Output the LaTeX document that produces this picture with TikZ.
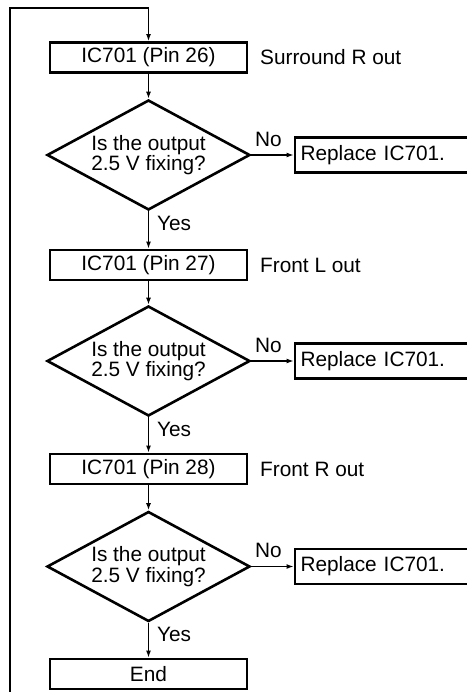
\documentclass[tikz,border=0pt]{standalone}
\usepackage{fontspec}
\setmainfont{Liberation Sans}
\usetikzlibrary{shapes.geometric,arrows.meta}
\begin{document}
\begin{tikzpicture}[x=1pt,y=-1pt,
  font=\fontsize{20.8}{20.5}\selectfont,
  conn/.style={line width=1.3pt},
  arr/.style={conn,-{Latex[length=7pt,width=5pt]}},
  mainbox/.style={draw,line width=2.9pt,minimum width=197pt,minimum height=30pt,inner sep=0pt},
  repbox/.style={draw,line width=2.9pt,minimum width=180pt,minimum height=35pt,inner sep=0pt,text width=169pt,align=left},
  dia/.style={draw,diamond,line width=2.6pt,minimum width=203pt,minimum height=110pt,inner sep=0pt},
  lbl/.style={inner sep=0pt},
]
\useasboundingbox (0,0) rectangle (466,692);
% main column
\node[mainbox] (b1) at (148.5,57.5) {IC701 (Pin 26)};
\node[dia] (d1) at (148.5,155) {};
\node[lbl,align=center] (q1) at (148.5,155) {Is the output\\2.5 V fixing?};
\node[repbox] (r1) at (385,155) {Replace IC701.};
\node[mainbox] (b2) at (148.5,265) {IC701 (Pin 27)};
\node[dia] (d2) at (148.5,361) {};
\node[lbl,align=center] (q2) at (148.5,361) {Is the output\\2.5 V fixing?};
\node[repbox] (r2) at (385,361) {Replace IC701.};
\node[mainbox] (b3) at (148.5,469) {IC701 (Pin 28)};
\node[dia] (d3) at (148.5,566.5) {};
\node[lbl,align=center] (q3) at (148.5,566.5) {Is the output\\2.5 V fixing?};
\node[repbox] (r3) at (385,566.5) {Replace IC701.};
\node[mainbox] (e) at (148.5,674) {End};
% side labels
\node[lbl,anchor=west] (s1) at (260,57.5) {Surround R out};
\node[lbl,anchor=west] (s2) at (260,265) {Front L out};
\node[lbl,anchor=west] (s3) at (260,469) {Front R out};
\node[lbl] (n1) at (268.5,139) {No};
\node[lbl] (n2) at (268.5,345) {No};
\node[lbl] (n3) at (268.5,550) {No};
\node[lbl,anchor=west] (y1) at (157,223) {Yes};
\node[lbl,anchor=west] (y2) at (157,429) {Yes};
\node[lbl,anchor=west] (y3) at (157,634) {Yes};
% loop line
\coordinate (lb) at (10,700);
\coordinate (tl) at (10,8);
\coordinate (tj) at (148.5,8);
\draw[arr] (lb) -- (tl) -- (tj) -- (b1.north);
% connectors
\draw[arr] (b1) -- (d1);
\draw[arr] (d1) -- (r1);
\draw[arr] (d1) -- (b2);
\draw[arr] (b2) -- (d2);
\draw[arr] (d2) -- (r2);
\draw[arr] (d2) -- (b3);
\draw[arr] (b3) -- (d3);
\draw[arr] (d3) -- (r3);
\draw[arr] (d3) -- (e);
\end{tikzpicture}
\end{document}
